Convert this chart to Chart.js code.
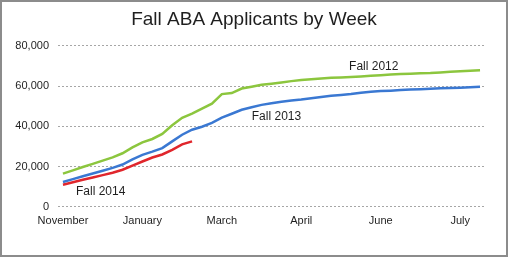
<!DOCTYPE html>
<html>
<head>
<meta charset="utf-8">
<script src="https://cdn.jsdelivr.net/npm/chart.js@4"></script>
<style>
  html, body { margin: 0; padding: 0; background: #fff; }
  #wrap { width: 508px; height: 257px; position: relative; }
</style>
</head>
<body>
<div id="wrap"><canvas id="myChart"></canvas></div>
<script>
// weekly cumulative applicants, one entry per week
const weeks = [
  "W1", "W2", "W3", "W4", "W5", "W6", "W7", "W8", "W9", "W10",
  "W11", "W12", "W13", "W14", "W15", "W16", "W17", "W18", "W19", "W20",
  "W21", "W22", "W23", "W24", "W25", "W26", "W27", "W28", "W29", "W30",
  "W31", "W32", "W33", "W34", "W35", "W36", "W37", "W38", "W39", "W40",
  "W41", "W42", "W43",
];
const monthTicks = ["November", "January", "March", "April", "June", "July"];

const fall2012 = [
  16500, 18100, 19750, 21350, 22950, 24550, 26600, 29500, 32000, 33700,
  36250, 40500, 44250, 46250, 48800, 51250, 56000, 56500, 58750, 59700,
  60600, 61200, 61800, 62450, 63050, 63400, 63800, 64100, 64300, 64500,
  64800, 65100, 65400, 65700, 66000, 66150, 66300, 66450, 66750, 67050,
  67300, 67600, 67850,
];
const fall2013 = [
  12350, 13750, 15150, 16550, 17950, 19350, 21000, 23550, 25800, 27400,
  29150, 32500, 35800, 38300, 39800, 41700, 44350, 46250, 48200, 49500,
  50650, 51500, 52250, 52800, 53300, 53950, 54600, 55200, 55600, 56000,
  56650, 57200, 57500, 57700, 58000, 58250, 58450, 58650, 58850, 59000,
  59200, 59450, 59650,
];
const fall2014 = [
  11000, 12200, 13400, 14600, 15750, 16950, 18400, 20500, 22500, 24500,
  26000, 28300, 31000, 32500,
];
const yTicks = [0, 20000, 40000, 60000, 80000];

const textColor = "#1f1f1f";

// series names written next to the lines
const lineLabels = {
  id: "lineLabels",
  afterDatasetsDraw(chart) {
    const { ctx, scales } = chart;
    const spots = [
      { text: "Fall 2012", x: 31.3, y: 69500 },
      { text: "Fall 2013", x: 21.5, y: 45000 },
      { text: "Fall 2014", x: 3.8, y: 7500 },
    ];
    ctx.save();
    ctx.font = "12px 'Liberation Sans', Arial, sans-serif";
    ctx.fillStyle = textColor;
    ctx.textAlign = "center";
    ctx.textBaseline = "middle";
    spots.forEach((s) => {
      ctx.fillText(s.text, scales.x.getPixelForValue(s.x), scales.y.getPixelForValue(s.y));
    });
    ctx.restore();
  },
};

const frame = {
  id: "frame",
  afterDraw(chart) {
    const ctx = chart.ctx;
    ctx.save();
    ctx.strokeStyle = "#8c8c8c";
    ctx.lineWidth = 2;
    ctx.strokeRect(1, 1, chart.width - 2, chart.height - 2);
    ctx.restore();
  },
};

const data = {
  labels: weeks,
  datasets: [
    {
      label: "Fall 2012",
      borderColor: "#8cc63e",
      backgroundColor: "#8cc63e",
      data: fall2012,
    },
    {
      label: "Fall 2013",
      borderColor: "#3a78d2",
      backgroundColor: "#3a78d2",
      data: fall2013,
    },
    {
      label: "Fall 2014",
      borderColor: "#e0262c",
      backgroundColor: "#e0262c",
      data: fall2014,
    },
  ],
};

const config = {
  type: "line",
  data: data,
  plugins: [lineLabels, frame],
  options: {
    responsive: true,
    maintainAspectRatio: false,
    animation: false,
    elements: {
      line: { borderWidth: 2.5, tension: 0 },
      point: { radius: 0, hoverRadius: 0 },
    },
    layout: { padding: { left: 0, right: 0, top: 0, bottom: 21 } },
    plugins: {
      legend: { display: false },
      tooltip: { enabled: false },
      title: {
        display: true,
        text: "Fall ABA Applicants by Week",
        color: textColor,
        font: { family: "'Liberation Sans', Arial, sans-serif", size: 19, weight: "normal" },
        padding: { top: 8, bottom: 15 },
      },
    },
    scales: {
      x: {
        offset: true,
        grid: { display: false, drawTicks: false },
        border: { display: false },
        ticks: {
          autoSkip: false,
          maxRotation: 0,
          padding: 8,
          color: textColor,
          font: { family: "'Liberation Sans', Arial, sans-serif", size: 11 },
          callback: (v, i) => (i % 8 === 0 ? monthTicks[i / 8] : ""),
        },
      },
      y: {
        min: yTicks[0],
        max: yTicks[yTicks.length - 1],
        afterBuildTicks: (axis) => {
          axis.ticks = yTicks.map((v) => ({ value: v }));
        },
        afterFit: (axis) => {
          axis.width = 58;
        },
        grid: { color: "#a6a6a6", drawTicks: false, lineWidth: 1 },
        border: { display: false, dash: [2, 2] },
        ticks: {
          padding: 9,
          color: textColor,
          font: { family: "'Liberation Sans', Arial, sans-serif", size: 11 },
          callback: (v) => v.toLocaleString("en-US"),
        },
      },
      // empty right-hand margin so the title stays centred on the whole frame
      yRight: {
        position: "right",
        display: true,
        grid: { display: false, drawTicks: false },
        border: { display: false },
        ticks: { display: false },
        afterFit: (axis) => {
          axis.width = 23;
        },
      },
    },
  },
};

const myChart = new Chart(document.getElementById("myChart"), config);
</script>
</body>
</html>
